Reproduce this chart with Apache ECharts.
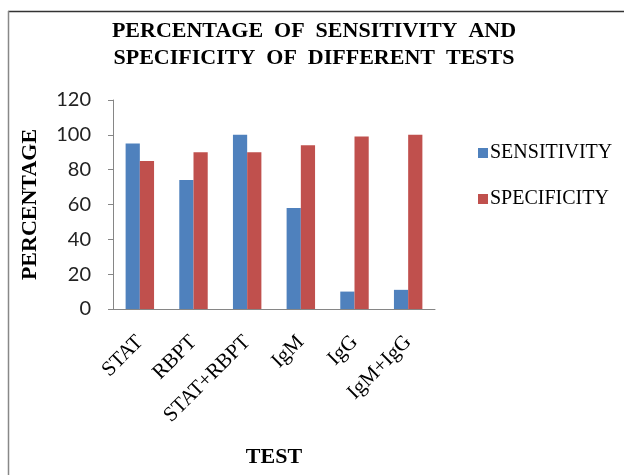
<!DOCTYPE html>
<html><head><meta charset="utf-8">
<script src="https://cdn.jsdelivr.net/npm/echarts@6/dist/echarts.min.js"></script>
<style>html,body{margin:0;padding:0;background:#fff}#c{width:624px;height:475px}</style>
</head><body><div id="c"></div>
<script>
const categories = ['STAT', 'RBPT', 'STAT+RBPT', 'IgM', 'IgG', 'IgM+IgG'];
const sensitivity = [95, 74, 100, 58, 10, 11];
const specificity = [85, 90, 90, 94, 99, 100];
const seriesNames = ['SENSITIVITY', 'SPECIFICITY'];
const titleText = 'PERCENTAGE  OF  SENSITIVITY  AND\nSPECIFICITY  OF  DIFFERENT  TESTS';

const chart = echarts.init(document.getElementById('c'), null, {renderer: 'canvas'});
const serif = '"Liberation Serif", "Times New Roman", serif';
chart.setOption({
  animation: false,
  backgroundColor: '#fff',
  title: {
    text: titleText, left: 309, top: 13, textAlign: 'center',
    textStyle: {fontFamily: serif, fontWeight: 'bold', fontSize: 22, lineHeight: 27, color: '#000'}
  },
  legend: {
    orient: 'vertical', left: 473, top: 138, itemWidth: 10, itemHeight: 10, itemGap: 26,
    icon: 'rect',
    textStyle: {fontFamily: serif, fontSize: 20, color: '#000', padding: [0,0,0,-3]},
    data: seriesNames
  },
  grid: {left: 113, top: 100, width: 322, height: 209, containLabel: false},
  xAxis: {
    type: 'category', data: categories,
    name: 'TEST', nameLocation: 'middle', nameGap: 137,
    nameTextStyle: {fontFamily: serif, fontWeight: 'bold', fontSize: 22, color: '#000'},
    axisLine: {lineStyle: {color: '#868686', width: 1}},
    axisTick: {show: false},
    axisLabel: {rotate: 45, margin: 30, fontFamily: serif, fontSize: 21, color: '#000', interval: 0}
  },
  yAxis: {
    type: 'value', min: 0, max: 120, interval: 20,
    name: 'PERCENTAGE', nameLocation: 'middle', nameGap: 72, nameRotate: 90,
    nameTextStyle: {fontFamily: serif, fontWeight: 'bold', fontSize: 22, color: '#000'},
    axisLine: {show: true, lineStyle: {color: '#868686', width: 1}},
    axisTick: {show: true, length: 5, lineStyle: {color: '#868686'}},
    splitLine: {show: false},
    axisLabel: {margin: 22, fontFamily: 'Lato, "Open Sans", sans-serif', fontSize: 20, color: '#222'}
  },
  series: [
    {name: seriesNames[0], type: 'bar', data: sensitivity, barGap: '0%', barCategoryGap: '47%',
     itemStyle: {color: '#4F81BD'}},
    {name: seriesNames[1], type: 'bar', data: specificity, barGap: '0%', barCategoryGap: '47%',
     itemStyle: {color: '#C0504D'}}
  ],
  graphic: [
    {type: 'line', shape: {x1: 8, y1: 11.5, x2: 624, y2: 11.5}, style: {stroke: '#333', lineWidth: 1.5}},
    {type: 'line', shape: {x1: 8.5, y1: 11, x2: 8.5, y2: 475}, style: {stroke: '#888', lineWidth: 1.5}}
  ]
});
</script></body></html>
